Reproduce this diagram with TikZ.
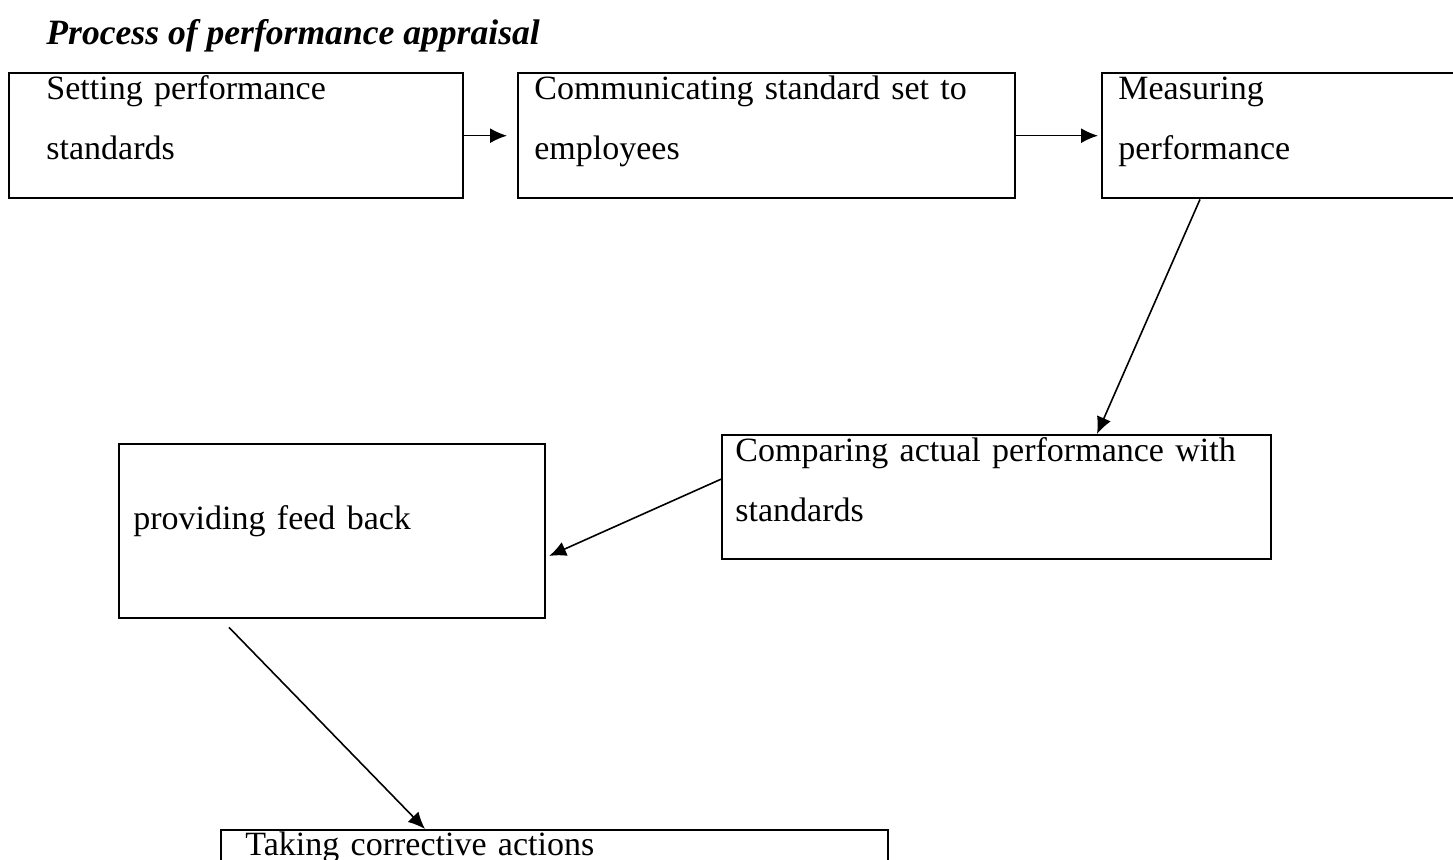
\documentclass[tikz,border=0pt]{standalone}
\usepackage{fontspec}
\setmainfont{Liberation Serif}
\usetikzlibrary{positioning,arrows.meta}
\begin{document}
\begin{tikzpicture}[x=0.5pt,y=-0.5pt,>={Latex[length=8.5pt,width=7.5pt]},
    stepbox/.style={draw,line width=1.2pt,rectangle,anchor=north west,inner sep=0pt},
    steptext/.style={anchor=base west,inner sep=0pt,text width=300pt,align=left,
        font=\fontsize{17}{30}\selectfont},
    flow/.style={->,line width=0.8pt}]
    \clip (0,0) rectangle (1453,860);

    \node [anchor=base west,inner sep=0pt,font=\fontsize{17.8}{20}\selectfont\bfseries\itshape]
        (title) at (46,45) {Process of performance appraisal};

    \node [stepbox,minimum width=227pt,minimum height=62.5pt] (setting) at (8,72) {};
    \node [steptext] (settingtext) at (46,100) {Setting performance\\standards};

    \node [stepbox,minimum width=248.5pt,minimum height=62.5pt] (communicating) at (517,72) {};
    \node [steptext] (communicatingtext) at (534,100) {Communicating standard set to\\employees};

    \node [stepbox,minimum width=190pt,minimum height=62.5pt] (measuring) at (1101,72) {};
    \node [steptext] (measuringtext) at (1118,100) {Measuring\\performance};

    \node [stepbox,minimum width=274.5pt,minimum height=62pt] (comparing) at (721,434) {};
    \node [steptext] (comparingtext) at (735,462) {Comparing actual performance with\\standards};

    \node [stepbox,minimum width=213pt,minimum height=87pt] (feedback) at (118,443) {};
    \node [steptext] (feedbacktext) at (133,530) {providing feed back};

    \node [stepbox,minimum width=333.5pt,minimum height=40pt] (corrective) at (220,829) {};
    \node [steptext] (correctivetext) at (245,855.5) {Taking corrective actions};

    \draw [flow,shorten >=5pt] (setting.east) -- (communicating.west);
    \draw [flow,shorten >=1.5pt] (communicating.east) -- (measuring.west);
    \draw [flow] ([xshift=49.5pt]measuring.south west) -- ([xshift=188pt]comparing.north west);
    \draw [flow,shorten >=1.5pt] ([yshift=9pt]comparing.west) -- ([yshift=-13pt]feedback.east);
    \draw [flow] ([xshift=55.5pt,yshift=-4pt]feedback.south west) -- ([xshift=102.5pt]corrective.north west);
\end{tikzpicture}
\end{document}
